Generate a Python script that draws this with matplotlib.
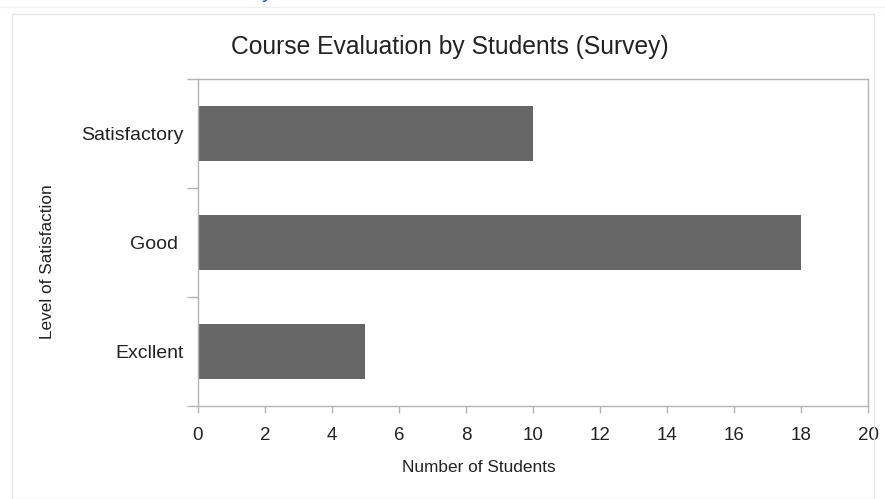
import matplotlib
matplotlib.use("Agg")
import matplotlib.pyplot as plt
from matplotlib.patches import Rectangle
import numpy as np

plt.rcParams['font.family'] = ['Liberation Sans', 'DejaVu Sans']

# data
levels = ['Excllent', 'Good ', 'Satisfactory']
students = [5, 18, 10]
x_ticks = list(range(0, 21, 2))

bar_color = '#666666'
line_color = '#b3b3b3'
text_color = '#222222'

fig = plt.figure(figsize=(8.85, 4.99), dpi=100)
ax = fig.add_axes([0.2237, 0.1864, 0.7571, 0.6553])

y = np.arange(len(levels))
ax.barh(y, students, height=0.5, color=bar_color)

ax.set_xlim(0, 20)
ax.set_ylim(-0.5, len(levels) - 0.5)
ax.set_xticks(x_ticks)
ax.set_yticks(y)
ax.set_yticklabels(levels)
ax.set_yticks(np.arange(-0.5, len(levels)), minor=True)

ax.tick_params(axis='y', which='major', length=0, pad=10.5,
               labelsize=14, labelcolor=text_color)
ax.tick_params(axis='y', which='minor', length=8, width=1, color=line_color)
ax.tick_params(axis='x', length=5, width=1, color=line_color, pad=10,
               labelsize=13.5, labelcolor=text_color)

for s in ax.spines.values():
    s.set_color(line_color)
    s.set_linewidth(1)

# titles placed where the reference has them
fig.text(0.5085, 0.9058, 'Course Evaluation by Students (Survey)',
         ha='center', va='center', fontsize=17.7, color=text_color)
fig.text(0.541, 0.0641, 'Number of Students', ha='center', va='center',
         fontsize=12.4, color=text_color)
fig.text(0.0542, 0.475, 'Level of Satisfaction', ha='center', va='center',
         rotation=90, fontsize=12.4, color=text_color)

# page frame around the chart
fig.patches.append(Rectangle((12 / 885, 0), 862 / 885, 1 - 14 / 499,
                             transform=fig.transFigure, fill=False,
                             edgecolor='#e6e6e6', linewidth=1))
fig.lines.append(plt.Line2D([0, 1], [1 - 7 / 499, 1 - 7 / 499],
                            transform=fig.transFigure, color='#efefef', lw=1))
# cut-off heading from the page above
fig.text(262 / 885, 1 + 2.5 / 499, 'y', ha='left', va='baseline',
         fontsize=16, color='#2a5bd7')

fig.savefig('out.png', dpi=100)
